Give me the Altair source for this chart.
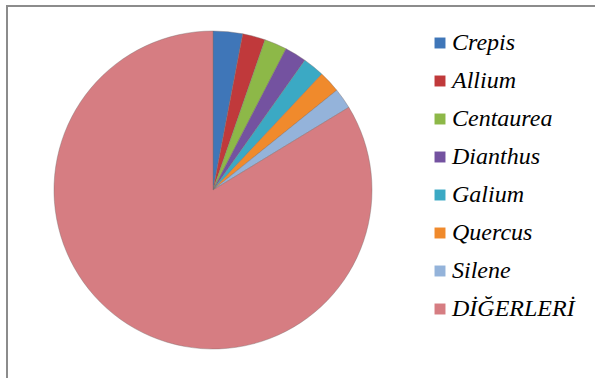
import altair as alt
import pandas as pd

genera = ["Crepis", "Allium", "Centaurea", "Dianthus", "Galium", "Quercus", "Silene", "DİĞERLERİ"]
values = [3.0, 2.3, 2.3, 2.2, 2.2, 2.2, 2.1, 83.7]
colors = ["#3F76B8", "#C0393B", "#8DB848", "#7452A0", "#3BA9C4", "#F08A2C", "#94B3DA", "#D67D82"]

df = pd.DataFrame({"genus": genera, "value": values, "order": list(range(len(genera)))})

pie = alt.Chart(df).mark_arc(radius=159, stroke="#7a6a6a", strokeWidth=0.4).encode(
    theta=alt.Theta("value:Q", stack=True),
    order=alt.Order("order:Q"),
    color=alt.Color(
        "genus:N",
        sort=genera,
        scale=alt.Scale(domain=genera, range=colors),
        legend=alt.Legend(
            title=None,
            orient="none",
            legendX=428,
            legendY=31,
            symbolType="square",
            symbolSize=120,
            symbolStrokeWidth=0,
            labelColor="black",
            labelOffset=0,
            rowPadding=14,
            labelLimit=200,
        ),
    ),
    x=alt.value(213),
    y=alt.value(190),
)

border_left = alt.Chart(df).mark_rule(color="#8c8c8c", strokeWidth=2).encode(
    x=alt.value(7), y=alt.value(5), y2=alt.value(378)
)
border_top = alt.Chart(df).mark_rule(color="#8c8c8c", strokeWidth=2).encode(
    x=alt.value(6), x2=alt.value(595), y=alt.value(6)
)

chart = alt.layer(border_left, border_top, pie).properties(
    width=595, height=378, padding=0, autosize=alt.AutoSizeParams(type="none")
).configure_view(stroke=None).configure_legend(
    labelFont="Liberation Serif",
    labelFontStyle="italic",
    labelFontSize=24,
)

chart.save("out.html", embed_options={"renderer": "svg", "actions": False})
